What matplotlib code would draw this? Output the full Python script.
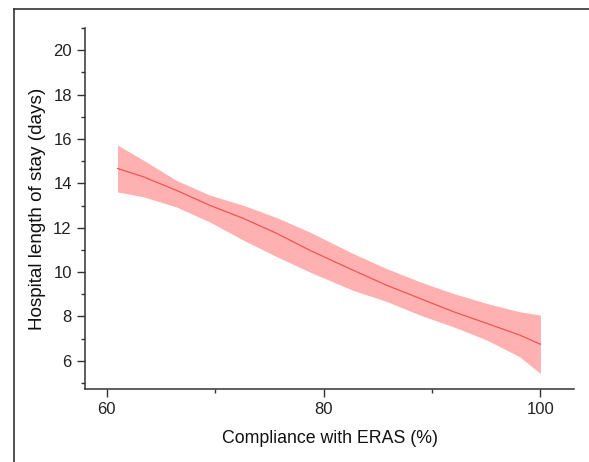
import matplotlib
matplotlib.use("Agg")
import matplotlib.pyplot as plt
from matplotlib.lines import Line2D
from matplotlib.ticker import MultipleLocator

plt.rcParams['font.family'] = ['Liberation Sans', 'DejaVu Sans']

# values
compliance = [61, 63.4, 66.4, 69.5, 72.6, 75.7, 78.7, 82.7, 85.8, 88.9, 92.0, 95.1, 98.1, 100]
los_fit = [14.67, 14.29, 13.69, 13.01, 12.42, 11.74, 10.99, 10.09, 9.41, 8.81, 8.21, 7.68, 7.16, 6.75]
los_upper = [15.72, 15.04, 14.14, 13.47, 13.01, 12.45, 11.81, 10.84, 10.16, 9.56, 9.03, 8.58, 8.21, 8.06]
los_lower = [13.61, 13.39, 12.94, 12.26, 11.44, 10.69, 10.01, 9.18, 8.68, 8.06, 7.53, 6.93, 6.18, 5.43]

fig = plt.figure(figsize=(5.89, 4.62), dpi=100)
ax = fig.add_axes([85/589, 1-389/462, (574-85)/589, (389-28)/462])

ax.fill_between(compliance, los_lower, los_upper, color='#ffb0b0', lw=0)
ax.plot(compliance, los_fit, color='#f05555', lw=0.9)

ax.set_xlim(58, 103.1)
ax.set_ylim(4.73, 21)
ax.xaxis.set_major_locator(MultipleLocator(20))
ax.xaxis.set_minor_locator(MultipleLocator(10))
ax.yaxis.set_minor_locator(MultipleLocator(1))
ax.set_yticks(range(6, 21, 2))

for s in ['top', 'right']:
    ax.spines[s].set_visible(False)
for s in ['left', 'bottom']:
    ax.spines[s].set_color('#333333')
    ax.spines[s].set_linewidth(1.1)

ax.tick_params(which='major', direction='out', length=5.5, width=1, color='#333333',
               labelsize=12, pad=4, labelcolor='#222222')
ax.tick_params(which='minor', direction='out', length=3, width=1, color='#333333')

ax.set_xlabel("Compliance with ERAS (%)", fontsize=12.8, labelpad=9, color='#111111')
ax.set_ylabel("Hospital length of stay (days)", fontsize=13.6, labelpad=5, color='#111111')

# outer frame of the original image
fig.add_artist(Line2D([14/589, 1], [1-9/462, 1-9/462], transform=fig.transFigure, color='#333333', lw=1.2))
fig.add_artist(Line2D([14/589, 14/589], [0, 1-9/462], transform=fig.transFigure, color='#333333', lw=1.2))

fig.savefig("out.png", dpi=100)
